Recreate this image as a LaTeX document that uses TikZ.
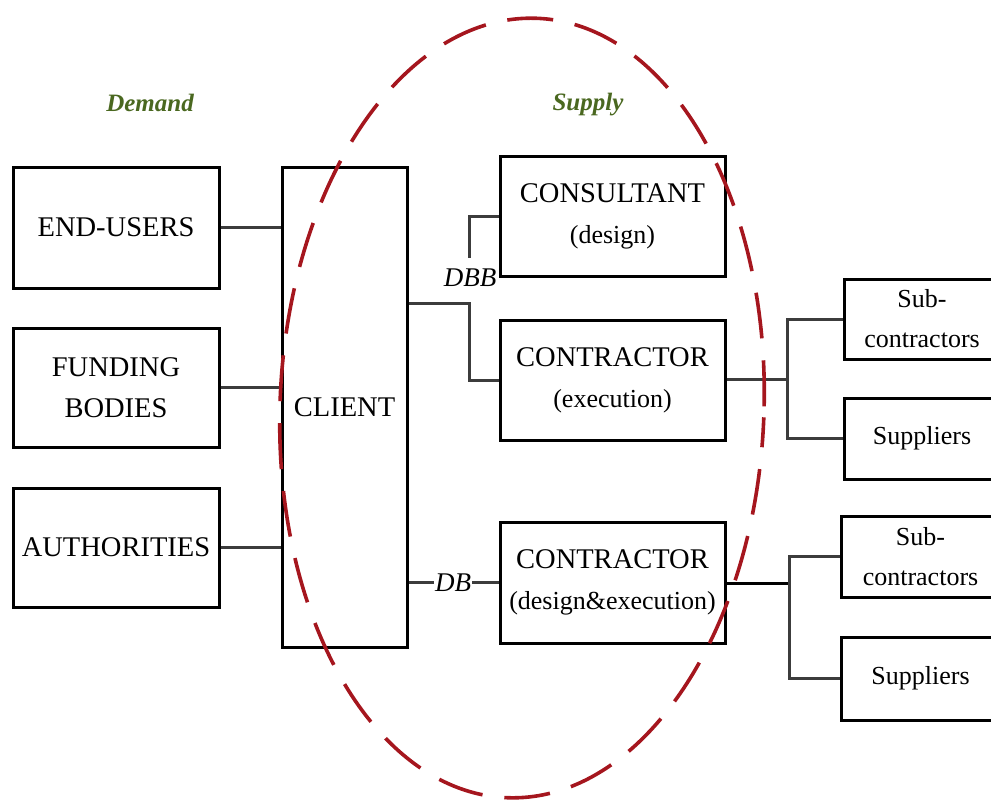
\documentclass[tikz,border=0pt]{standalone}
\usepackage{fontspec}
\setmainfont{Liberation Serif}
\definecolor{ellred}{RGB}{165,22,30}
\definecolor{headgreen}{RGB}{74,104,32}
\definecolor{conngray}{RGB}{60,60,60}
\newcommand\bigfnt{\fontsize{28.5}{41}\selectfont}
\newcommand\secfnt{\fontsize{26}{41}\selectfont}
\newcommand\smallfnt{\fontsize{26}{40}\selectfont}
\newcommand\itfnt{\fontsize{27}{30}\selectfont\itshape}
\newcommand\headfnt{\fontsize{25}{30}\selectfont\bfseries\itshape}
\tikzset{
  box/.style={draw=black, line width=3pt, inner sep=0pt, align=center, font=\bigfnt, text=black},
  sbox/.style={box, font=\smallfnt},
  conn/.style={draw=conngray, line width=3pt},
  lab/.style={font=\itfnt, fill=white, inner sep=1pt},
  head/.style={font=\headfnt, text=headgreen},
  ell/.style={draw=ellred, line width=3.6pt, dash pattern=on 46pt off 22pt, dash phase=57pt}
}
\begin{document}
\begin{tikzpicture}[x=1pt,y=-1pt]
\path[use as bounding box] (0,0) rectangle (991,801);
\clip (0,0) rectangle (991,801);
% headings
\node[head] (demand) at (150,103) {Demand};
\node[head] (supply) at (588,105) {Supply};
% left boxes
\node[box, minimum width=206pt, minimum height=121pt] (eu) at (116,227.5) {END-USERS};
\node[box, minimum width=206pt, minimum height=119pt] (fb) at (116,387.5) {FUNDING\\BODIES};
\node[box, minimum width=206pt, minimum height=119pt] (au) at (116,547.5) {AUTHORITIES};
% client
\node[box, minimum width=125pt, minimum height=480pt] (cl) at (344.5,407) {CLIENT};
% supply boxes
\node[box, minimum width=225pt, minimum height=120pt] (cons) at (612.5,216) {CONSULTANT\\\secfnt(design)};
\node[box, minimum width=225pt, minimum height=120pt] (cexe) at (612.5,380) {CONTRACTOR\\\secfnt(execution)};
\node[box, minimum width=225pt, minimum height=121pt] (cde) at (612.5,582.5) {CONTRACTOR\\\secfnt(design\&execution)};
% right boxes
\node[sbox, minimum width=156pt, minimum height=80pt] (sub1) at (922,319) {Sub-\\contractors};
\node[sbox, minimum width=156pt, minimum height=81pt] (sup1) at (922,438.5) {Suppliers};
\node[sbox, minimum width=159pt, minimum height=81pt] (sub2) at (920.5,556.5) {Sub-\\contractors};
\node[sbox, minimum width=159pt, minimum height=83pt] (sup2) at (920.5,678.5) {Suppliers};
% coordinates
\coordinate (jdbb) at (469,303);
\coordinate (dbbtop) at (469,258);
\coordinate (j1) at (787,379);
\coordinate (j2) at (789,583);
% left connectors
\draw[conn] (eu.east) -- (eu.east -| cl.west);
\draw[conn] (fb.east) -- (fb.east -| cl.west);
\draw[conn] (au.east) -- (au.east -| cl.west);
% DBB
\draw[conn] (jdbb -| cl.east) -- (jdbb) |- (cexe.west);
\draw[conn] (cons.west) -| (dbbtop);
\node[lab] (dbb) at (470,278) {DBB};
% DB
\draw[conn] (cde.west -| cl.east) -- (cde.west);
\node[lab] (db) at (453,583) {DB};
% right connectors
\draw[conn] (j1 -| cexe.east) -- (j1);
\draw[conn] (sub1.west) -| (j1) |- (sup1.west);
\draw[conn, draw=black] (j2 -| cde.east) -- (j2);
\draw[conn] (sub2.west) -| (j2) |- (sup2.west);
% ellipse
\draw[ell, rotate around={-2.2:(522,408)}] (522,408) ellipse [x radius=242pt, y radius=390pt];
\end{tikzpicture}
\end{document}
